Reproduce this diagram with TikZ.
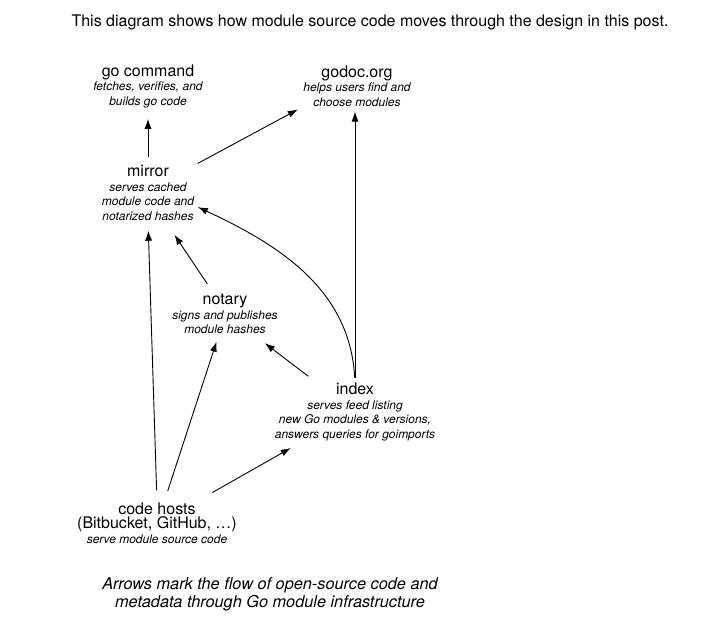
\documentclass[tikz,border=0pt]{standalone}
\usepackage{fontspec}
\setmainfont{TeX Gyre Heros}
\usetikzlibrary{arrows.meta, positioning, calc}
\newcommand{\titleSize}{\fontsize{16}{17}\selectfont}
\newcommand{\noteSize}{\fontsize{12}{14.5}\selectfont}
\tikzstyle{part}=[align=center, inner sep=0pt, font=\noteSize]
\tikzstyle{arrow}=[-{Latex[length=10pt,width=7pt]}, line width=0.9pt]
\tikzstyle{caption}=[align=center, inner sep=0pt, font=\fontsize{16.3}{18}\selectfont\itshape]
\newcommand\partText[2]{{\titleSize\upshape #1}\\\itshape #2}

\begin{document}
\begin{tikzpicture}[x=1pt, y=-1pt]
  \useasboundingbox (0,0) rectangle (705,629);
  \node[inner sep=0pt, font=\fontsize{16}{18}\selectfont] (head) at (370,22)
    {This diagram shows how module source code moves through the design in this post.};
  % components
  \node[part] (gocmd) at (148,86) {\partText{go command}{fetches, verifies, and\\\itshape builds go code}};
  \node[part] (godoc) at (357,86) {\partText{godoc.org}{helps users find and\\\itshape choose modules}};
  \node[part] (mirror) at (148,193) {\partText{mirror}{serves cached\\\itshape module code and\\\itshape notarized hashes}};
  \node[part] (notary) at (225,314) {\partText{notary}{signs and publishes\\\itshape module hashes}};
  \node[part] (index) at (355,412) {\partText{index}{serves feed listing\\\itshape new Go modules \& versions,\\\itshape answers queries for goimports}};
  \node[part] (hosts) at (157,523) {{\titleSize code hosts}\\{\titleSize (Bitbucket, GitHub, \dots)}\\\itshape serve module source code};
  \node[caption] (note) at (270,594) {Arrows mark the flow of open-source code and\\metadata through Go module infrastructure};
  % flows
  \draw[arrow, shorten <=8pt, shorten >=11pt] (mirror.north) -- (gocmd.south);
  \draw[arrow, shorten <=4pt, shorten >=6pt] (mirror.north east) -- (godoc.south west);
  \draw[arrow, shorten <=5pt, shorten >=5pt] (index.north) -- (index.north |- godoc.south);
  \draw[arrow, shorten <=5pt, shorten >=4pt] (index.north) to[out=93, in=-25] (mirror.-15);
  \draw[arrow, shorten <=12pt, shorten >=17pt] ([xshift=-11pt]notary.north) -- ([xshift=17pt]mirror.south);
  \draw[arrow, shorten <=11pt, shorten >=15pt] ([xshift=-38pt]index.north) -- ([xshift=28pt]notary.south);
  \draw[arrow, shorten <=12pt, shorten >=10pt] (hosts.north) -- (mirror.south);
  \draw[arrow, shorten <=12pt, shorten >=8pt] ([xshift=7pt]hosts.north) -- ([xshift=-6pt]notary.south);
  \draw[arrow, shorten <=20pt, shorten >=14pt] ([xshift=38pt]hosts.north) -- ([xshift=-52pt]index.south);
\end{tikzpicture}
\end{document}
